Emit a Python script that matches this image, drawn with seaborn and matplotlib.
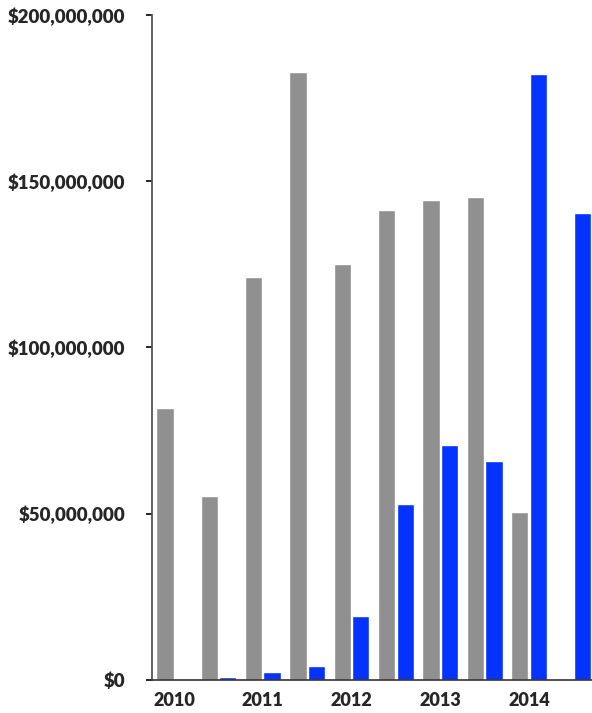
import pandas as pd
import matplotlib
matplotlib.use("Agg")
import matplotlib.pyplot as plt
import seaborn as sns
from matplotlib.ticker import FuncFormatter

# half-year periods, two series per period
periods = ["2010 H1", "2010 H2", "2011 H1", "2011 H2", "2012 H1",
           "2012 H2", "2013 H1", "2013 H2", "2014 H1", "2014 H2"]
gray_values = [81.8e6, 55.3e6, 121.2e6, 182.9e6, 125.1e6,
               141.4e6, 144.4e6, 145.3e6, 50.5e6, 0]
blue_values = [0, 0.9e6, 2.4e6, 4.2e6, 19.2e6,
               52.9e6, 70.7e6, 65.9e6, 182.3e6, 140.5e6]
year_labels = ["2010", "", "2011", "", "2012", "", "2013", "", "2014", ""]

df = pd.DataFrame({
    "period": periods * 2,
    "series": ["gray"] * len(periods) + ["blue"] * len(periods),
    "value": gray_values + blue_values,
})

sns.set_style("white")
plt.rcParams["font.family"] = ["Lato", "DejaVu Sans"]

fig = plt.figure(figsize=(5.92, 7.13), dpi=100)
ax = fig.add_axes([0.2568, 0.0463, 0.7432, 0.9327])

sns.barplot(data=df, x="period", y="value", hue="series",
            palette={"gray": "#909090", "blue": "#0433FF"},
            width=0.83, gap=0.06, saturation=1, legend=False, ax=ax)

ax.set_ylim(0, 200e6)
ax.set_xlim(-0.5, 9.42)
ax.set_yticks([0, 50e6, 100e6, 150e6, 200e6])
ax.yaxis.set_major_formatter(FuncFormatter(lambda v, p: f"${v:,.0f}"))
ax.set_xticks(range(len(periods)))
ax.set_xticklabels(year_labels)
ax.set_xlabel("")
ax.set_ylabel("")

for lab in ax.get_yticklabels():
    lab.set_fontweight("heavy")
    lab.set_fontsize(13.4)
for lab in ax.get_xticklabels():
    lab.set_fontweight("heavy")
    lab.set_fontsize(13)

ax.tick_params(axis="y", length=4, width=1.2, color="black", pad=15, direction="out", left=True)
ax.tick_params(axis="x", length=0, pad=9)

sns.despine(ax=ax, top=True, right=True)
ax.spines["left"].set_color("#555555")
ax.spines["left"].set_linewidth(1.3)
ax.spines["bottom"].set_color("#333333")
ax.spines["bottom"].set_linewidth(1.2)

fig.savefig("out.png", dpi=100)
